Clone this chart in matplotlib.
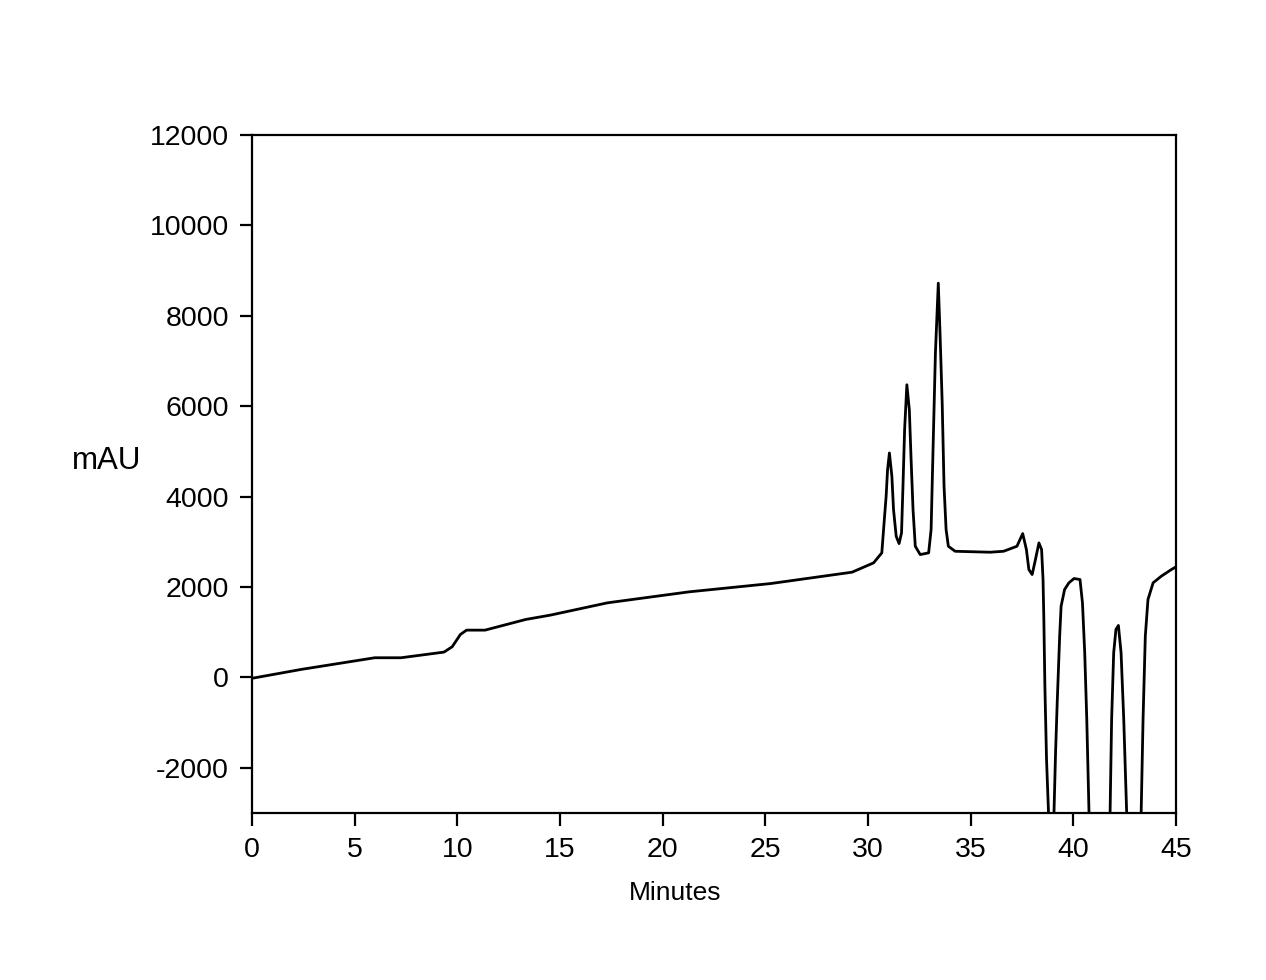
import matplotlib
matplotlib.use("Agg")
import matplotlib.pyplot as plt

plt.rcParams['font.family'] = ['Liberation Sans', 'DejaVu Sans']
plt.rcParams['axes.unicode_minus'] = False

minutes = [0.0, 2.4, 5.98, 7.26, 9.35, 9.75, 10.15, 10.45, 11.35, 13.33, 14.53,
           17.31, 21.28, 25.26, 29.22, 29.78, 30.27, 30.67, 30.78, 30.88, 30.95,
           31.04, 31.16, 31.24, 31.37, 31.51, 31.63, 31.70, 31.78, 31.89, 32.01,
           32.09, 32.19, 32.30, 32.54, 32.95, 33.07, 33.16, 33.28, 33.42, 33.51,
           33.61, 33.70, 33.80, 33.91, 34.24, 35.94, 36.6, 37.25, 37.53, 37.71,
           37.83, 37.99, 38.15, 38.32, 38.45, 38.52, 38.56, 38.61, 38.69, 38.82,
           39.03, 39.13, 39.21, 39.33, 39.40, 39.57, 39.78, 40.03, 40.32, 40.44,
           40.55, 40.65, 40.78, 41.77, 41.86, 41.96, 42.07, 42.19, 42.32, 42.45,
           42.62, 43.28, 43.39, 43.50, 43.63, 43.88, 44.28, 44.77, 45.0]
mau = [-20, 177, 435, 435, 560, 678, 950, 1046, 1046, 1282, 1378,
       1650, 1893, 2077, 2328, 2438, 2535, 2756, 3419, 4007, 4597,
       4966, 4449, 3713, 3123, 2961, 3198, 4228, 5481, 6475, 5923,
       4891, 3713, 2902, 2718, 2756, 3271, 4966, 7176, 8723, 7543,
       6070, 4228, 3271, 2902, 2791, 2770, 2791, 2902, 3182, 2829,
       2387, 2276, 2608, 2976, 2829, 2166, 1282, -191, -1812, -3400,
       -3400, -1665, -560, 913, 1576, 1945, 2093, 2188, 2166, 1650,
       545, -928, -3400, -3400, -928, 545, 1061, 1149, 545, -928,
       -3400, -3400, -928, 913, 1724, 2093, 2240, 2387, 2447]

x_ticks = [0, 5, 10, 15, 20, 25, 30, 35, 40, 45]
y_ticks = [-2000, 0, 2000, 4000, 6000, 8000, 10000, 12000]

fig = plt.figure(figsize=(12.66, 9.8), dpi=100)
ax = fig.add_axes([0.199, 0.1704, 0.730, 0.6918])
ax.plot(minutes, mau, color='black', lw=2.0)
ax.set_xlim(0, 45)
ax.set_ylim(-3000, 12000)
ax.set_xticks(x_ticks)
ax.set_yticks(y_ticks)
ax.tick_params(axis='both', direction='out', length=9, width=1.6,
               labelsize=20.5, top=False, right=False)
ax.tick_params(axis='y', pad=7.5)
ax.tick_params(axis='x', pad=8)
for s in ax.spines.values():
    s.set_linewidth(1.6)

ax.set_ylabel('mAU', rotation=0, fontsize=22.5, ha='center', va='center')
ax.yaxis.set_label_coords(-0.157, 0.519)
ax.set_xlabel('Minutes', fontsize=19, ha='center', va='center')
ax.xaxis.set_label_coords(0.458, -0.118)

fig.savefig('out.png', dpi=100)
